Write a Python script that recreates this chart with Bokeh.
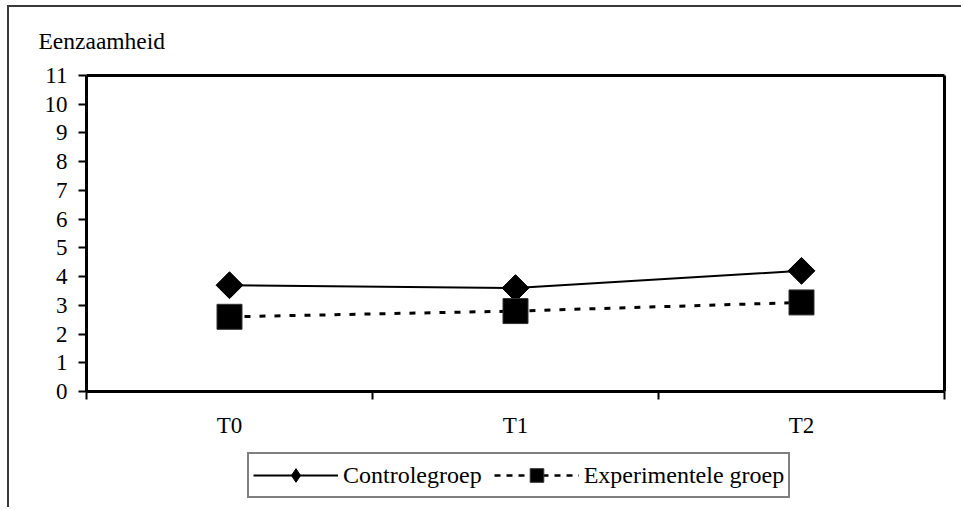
from bokeh.plotting import figure
from bokeh.models import FixedTicker, Legend, LegendItem, Range1d, LinearAxis, Label
from bokeh.embed import file_html
from bokeh.resources import INLINE

categories = ["T0", "T1", "T2"]
controle = [3.7, 3.6, 4.2]
experimenteel = [2.6, 2.8, 3.1]
y_ticks = list(range(0, 12))
y_max_value = 11
title_text = "Eenzaamheid"
series_names = ["Controlegroep", "Experimentele groep"]

FONT = "Liberation Serif"
FS = "23px"
xs = [i + 0.5 for i in range(len(categories))]
n = len(categories)

# layout (pixels inside the canvas)
W, H = 954, 502
box_l, box_r = 77, 935      # plot box left/right in canvas px
box_t, box_b = 68, 384      # plot box top/bottom in canvas px
xppu = (box_r - box_l) / n
yppu = (box_b - box_t) / y_max_value

p = figure(width=W, height=H, output_backend="svg", toolbar_location=None,
           x_axis_location=None, y_axis_location=None,
           x_range=Range1d(-box_l / xppu, n + (W - box_r) / xppu),
           y_range=Range1d(-(H - box_b) / yppu, y_max_value + box_t / yppu),
           min_border=0)
p.styles = {"margin-left": "7px", "margin-top": "5px",
            "border-top": "2px solid #3a3a3a", "border-left": "2px solid #3a3a3a"}
p.xgrid.visible = False
p.ygrid.visible = False
p.outline_line_color = None

# y axis
yaxis = LinearAxis(fixed_location=0, bounds=(0, y_max_value),
                   ticker=FixedTicker(ticks=y_ticks))
yaxis.axis_line_width = 3
yaxis.major_tick_line_width = 2
yaxis.major_tick_out = 8
yaxis.major_tick_in = 0
yaxis.minor_tick_line_color = None
yaxis.major_label_text_font = FONT
yaxis.major_label_text_font_size = FS
yaxis.major_label_text_color = "black"
yaxis.major_label_standoff = 11
p.add_layout(yaxis, "left")

# x axis: labels at category centres, ticks at category boundaries
xaxis = LinearAxis(fixed_location=0, bounds=(0, n),
                   ticker=FixedTicker(ticks=xs, minor_ticks=list(range(n + 1))))
xaxis.major_label_overrides = {x: c for x, c in zip(xs, categories)}
xaxis.axis_line_width = 3
xaxis.major_tick_line_color = None
xaxis.major_tick_out = 8
xaxis.major_tick_in = 0
xaxis.minor_tick_line_color = "black"
xaxis.minor_tick_line_width = 2
xaxis.minor_tick_out = 8
xaxis.minor_tick_in = 0
xaxis.major_label_text_font = FONT
xaxis.major_label_text_font_size = FS
xaxis.major_label_text_color = "black"
xaxis.major_label_standoff = 13
p.add_layout(xaxis, "below")

# top and right edges of the plot box
for loc, fixed, bnds in (("above", y_max_value, (0, n)), ("right", n, (0, y_max_value))):
    ax = LinearAxis(fixed_location=fixed, bounds=bnds, ticker=FixedTicker(ticks=[]))
    ax.axis_line_width = 3
    ax.major_tick_line_color = None
    ax.minor_tick_line_color = None
    ax.major_label_text_font_size = "0px"
    p.add_layout(ax, loc)

l1 = p.line(xs, controle, line_color="black", line_width=2)
s1 = p.scatter(xs, controle, marker="square", angle=0.785398, size=19,
               fill_color="black", line_color="black")
l2 = p.line(xs, experimenteel, line_color="black", line_width=3, line_dash="6 9")
s2 = p.scatter(xs, experimenteel, marker="square", size=25,
               fill_color="black", line_color="#333333")

# legend-only glyphs (not drawn on the plot)
lg1 = p.scatter(xs, controle, marker="diamond", size=10, fill_color="black",
                line_color="black", visible=False)
lg2 = p.line(xs, experimenteel, line_color="black", line_width=2.5,
             line_dash="6 6", visible=False)

legend = Legend(items=[LegendItem(label=series_names[0], renderers=[l1, lg1]),
                       LegendItem(label=series_names[1], renderers=[lg2, s2])],
                location=(238, 11), orientation="horizontal",
                label_text_font=FONT, label_text_font_size="24px",
                label_text_color="black", glyph_width=85, glyph_height=34,
                label_standoff=5, spacing=12, padding=4, margin=0,
                border_line_color="black", border_line_width=2,
                background_fill_alpha=1.0)
p.add_layout(legend)

p.add_layout(Label(x=29, y=H - 33, x_units="screen", y_units="screen",
                   text=title_text, text_font=FONT, text_font_size="23.5px",
                   text_color="black", text_baseline="alphabetic"))

open("out.html", "w").write(file_html(p, INLINE))
